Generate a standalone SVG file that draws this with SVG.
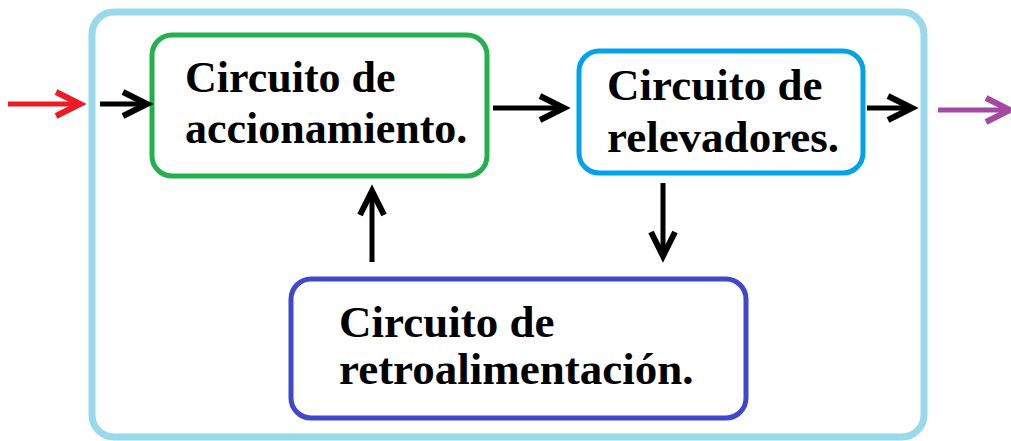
<svg xmlns="http://www.w3.org/2000/svg" width="1011" height="441" viewBox="0 0 1011 441">
<style>
.t{font-family:"Liberation Serif","Times New Roman",serif;font-weight:bold;font-size:44px;fill:#000}
.t45{font-size:45px}
.box{fill:#fff;stroke-width:5}
.ln{fill:none;stroke-width:5}
.hd{fill:none;stroke-width:6;stroke-linejoin:miter;stroke-linecap:butt}
</style>
<rect width="1011" height="441" fill="#fff"/>
<g id="outer"><rect x="92" y="12" width="832" height="425" rx="22" fill="#fff" stroke="#99d9ea" stroke-width="7"/></g>
<g id="accionamiento">
<rect class="box" x="152" y="35" width="335" height="141" rx="20" stroke="#22b14c"/>
<text class="t" x="185" y="92">Circuito de</text>
<text class="t" x="185" y="143">accionamiento.</text>
</g>
<g id="relevadores">
<rect class="box" x="579" y="51" width="284" height="122" rx="20" stroke="#00a2e8"/>
<text class="t t45" x="607" y="100">Circuito de</text>
<text class="t t45" x="607" y="152">relevadores.</text>
</g>
<g id="retroalimentacion">
<rect class="box" x="291" y="279" width="455" height="139" rx="20" stroke="#3f48cc"/>
<text class="t t45" x="339" y="337">Circuito de</text>
<text class="t t45" x="339" y="384">retroalimentación.</text>
</g>
<g id="connectors">
<g stroke="#ed1c24"><path class="ln" d="M8 104H79"/><path class="hd" d="M56 92L80 104L56 116"/></g>
<g stroke="#000">
<path class="ln" d="M100 104H145"/><path class="hd" d="M123 92L147 104L123 116"/>
<path class="ln" d="M493 108H562"/><path class="hd" d="M540 96L564 108L540 120"/>
<path class="ln" d="M867 108H910"/><path class="hd" d="M888 96L912 108L888 120"/>
<path class="ln" d="M372 262V193"/><path class="hd" d="M360 215L372 191L384 215"/>
<path class="ln" d="M663 183V254"/><path class="hd" d="M651 232L663 256L675 232"/>
</g>
<g stroke="#a349a4"><path class="ln" d="M938 110H1008"/><path class="hd" d="M986 98L1010 110L986 122"/></g>
</g>
</svg>
